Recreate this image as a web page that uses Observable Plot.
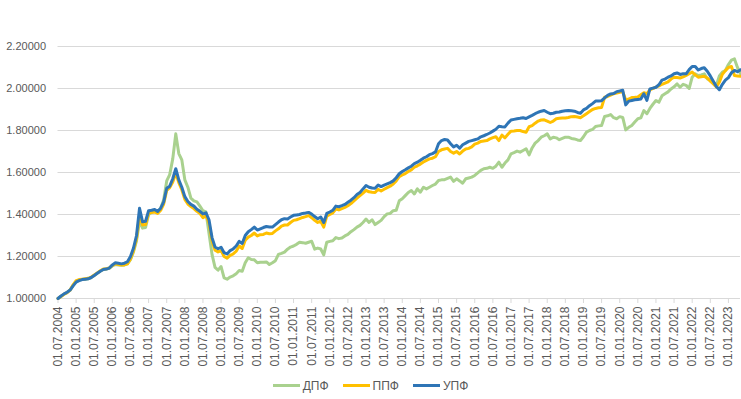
<!DOCTYPE html>
<html>
<head>
<meta charset="utf-8">
<script src="https://cdn.jsdelivr.net/npm/d3@7"></script>
<script src="https://cdn.jsdelivr.net/npm/@observablehq/plot@0.6"></script>
<style>
  body { margin: 0; background: #fff; font-family: "Liberation Sans", Arial, sans-serif; }
  #chart { width: 741px; }
  .legend { display: flex; justify-content: center; align-items: center; height: 27px; font-size: 12px; color: #595959; }
  .legend .item { display: flex; align-items: center; margin: 0 7px; }
  .legend .sw { width: 27px; height: 3px; margin-right: 3px; }
</style>
</head>
<body>
<div id="chart"></div>
<script>
// Series names and colours
const seriesNames = ["ДПФ", "ППФ", "УПФ"];
const seriesColors = ["#a9d18e", "#ffc000", "#2e75b6"];

// Monthly values, 01.07.2004 ... 01.05.2023
const dpf = [
1.000,1.010,1.020,1.028,1.040,1.062,1.080,1.088,1.090,1.092,1.094,1.100,
1.110,1.120,1.130,1.138,1.140,1.144,1.155,1.162,1.160,1.158,1.160,1.165,
1.185,1.222,1.275,1.370,1.335,1.338,1.400,1.410,1.415,1.410,1.430,1.470,
1.560,1.590,1.665,1.784,1.690,1.660,1.565,1.530,1.478,1.465,1.460,1.440,
1.418,1.412,1.310,1.210,1.148,1.135,1.152,1.098,1.092,1.102,1.108,1.118,
1.133,1.130,1.170,1.194,1.186,1.184,1.170,1.173,1.173,1.174,1.162,1.170,
1.180,1.210,1.215,1.221,1.235,1.245,1.250,1.258,1.268,1.266,1.263,1.268,
1.273,1.235,1.240,1.236,1.208,1.268,1.272,1.275,1.290,1.285,1.288,1.298,
1.305,1.318,1.328,1.340,1.348,1.362,1.378,1.362,1.375,1.352,1.362,1.372,
1.390,1.403,1.405,1.418,1.420,1.465,1.475,1.490,1.505,1.514,1.498,1.522,
1.506,1.530,1.522,1.530,1.538,1.545,1.562,1.565,1.566,1.572,1.578,1.558,
1.570,1.560,1.549,1.570,1.574,1.578,1.586,1.598,1.610,1.618,1.620,1.625,
1.620,1.630,1.649,1.625,1.645,1.660,1.689,1.695,1.702,1.697,1.705,1.713,
1.684,1.717,1.740,1.752,1.768,1.775,1.784,1.760,1.768,1.765,1.756,1.762,
1.768,1.768,1.762,1.760,1.755,1.752,1.770,1.792,1.800,1.805,1.819,1.822,
1.824,1.867,1.870,1.876,1.861,1.856,1.866,1.862,1.803,1.815,1.824,1.840,
1.856,1.860,1.895,1.880,1.905,1.925,1.943,1.935,1.965,1.975,1.984,1.998,
2.008,2.022,2.006,2.020,2.015,2.000,2.054,2.070,2.062,2.065,2.070,2.046,
2.040,2.030,2.014,2.060,2.078,2.086,2.114,2.135,2.141,2.100,2.070
];
const ppf = [
1.000,1.010,1.020,1.028,1.040,1.065,1.085,1.090,1.092,1.094,1.096,1.102,
1.112,1.122,1.132,1.140,1.142,1.146,1.158,1.165,1.162,1.160,1.160,1.165,
1.188,1.228,1.285,1.395,1.350,1.352,1.405,1.410,1.412,1.405,1.420,1.450,
1.515,1.528,1.555,1.598,1.552,1.518,1.472,1.450,1.438,1.428,1.415,1.405,
1.385,1.395,1.360,1.275,1.230,1.222,1.228,1.200,1.192,1.205,1.212,1.225,
1.250,1.238,1.278,1.292,1.300,1.312,1.298,1.304,1.305,1.312,1.308,1.310,
1.322,1.332,1.345,1.350,1.350,1.362,1.372,1.375,1.380,1.386,1.390,1.395,
1.385,1.372,1.362,1.368,1.340,1.392,1.400,1.408,1.426,1.422,1.428,1.434,
1.442,1.452,1.465,1.478,1.490,1.502,1.515,1.508,1.506,1.505,1.520,1.512,
1.520,1.528,1.535,1.545,1.560,1.580,1.588,1.595,1.605,1.612,1.625,1.632,
1.640,1.650,1.658,1.665,1.668,1.675,1.700,1.708,1.712,1.715,1.700,1.692,
1.700,1.688,1.702,1.712,1.715,1.722,1.735,1.740,1.748,1.750,1.752,1.760,
1.766,1.770,1.752,1.778,1.765,1.782,1.797,1.798,1.800,1.800,1.795,1.792,
1.818,1.823,1.835,1.845,1.850,1.851,1.845,1.838,1.845,1.856,1.858,1.860,
1.860,1.862,1.866,1.867,1.864,1.861,1.870,1.880,1.890,1.900,1.905,1.908,
1.910,1.958,1.962,1.968,1.975,1.978,1.982,1.985,1.945,1.950,1.957,1.958,
1.960,1.970,1.980,1.975,1.993,2.000,2.006,2.012,2.020,2.026,2.032,2.045,
2.054,2.052,2.050,2.055,2.062,2.070,2.078,2.065,2.054,2.056,2.058,2.050,
2.035,2.022,2.008,2.030,2.068,2.085,2.100,2.105,2.062,2.060,2.058
];
const upf = [
1.000,1.012,1.022,1.030,1.040,1.060,1.078,1.085,1.090,1.092,1.094,1.100,
1.110,1.120,1.130,1.138,1.140,1.145,1.160,1.170,1.168,1.165,1.168,1.175,
1.200,1.240,1.300,1.430,1.365,1.368,1.418,1.420,1.424,1.414,1.430,1.460,
1.525,1.535,1.570,1.618,1.565,1.530,1.485,1.462,1.448,1.440,1.425,1.415,
1.403,1.408,1.375,1.290,1.245,1.237,1.244,1.218,1.212,1.228,1.236,1.250,
1.272,1.262,1.300,1.318,1.328,1.340,1.326,1.332,1.338,1.343,1.341,1.340,
1.352,1.364,1.375,1.380,1.379,1.388,1.396,1.398,1.400,1.405,1.407,1.410,
1.402,1.390,1.380,1.388,1.362,1.405,1.412,1.420,1.440,1.437,1.442,1.448,
1.458,1.468,1.480,1.495,1.505,1.522,1.538,1.530,1.526,1.525,1.540,1.533,
1.540,1.546,1.552,1.560,1.575,1.594,1.605,1.613,1.622,1.630,1.642,1.649,
1.658,1.668,1.675,1.685,1.690,1.698,1.737,1.752,1.757,1.755,1.737,1.722,
1.730,1.716,1.732,1.740,1.748,1.752,1.756,1.760,1.770,1.775,1.781,1.788,
1.797,1.806,1.820,1.818,1.817,1.835,1.850,1.853,1.856,1.858,1.861,1.857,
1.865,1.872,1.880,1.887,1.892,1.895,1.887,1.880,1.882,1.887,1.888,1.892,
1.894,1.895,1.894,1.892,1.886,1.882,1.898,1.905,1.918,1.928,1.940,1.940,
1.942,1.955,1.967,1.974,1.976,1.985,1.988,1.992,1.922,1.940,1.943,1.946,
1.948,1.950,1.975,1.943,1.998,2.002,2.006,2.018,2.040,2.045,2.054,2.060,
2.070,2.074,2.067,2.070,2.070,2.090,2.105,2.105,2.088,2.095,2.099,2.082,
2.060,2.035,2.010,1.994,2.020,2.040,2.052,2.075,2.086,2.080,2.089
];

// Axis tick labels (every 6 months)
const tickLabels = [
"01.07.2004","01.01.2005","01.07.2005","01.01.2006","01.07.2006","01.01.2007",
"01.07.2007","01.01.2008","01.07.2008","01.01.2009","01.07.2009","01.01.2010",
"01.07.2010","01.01.2011","01.07.2011","01.01.2012","01.07.2012","01.01.2013",
"01.07.2013","01.01.2014","01.07.2014","01.01.2015","01.07.2015","01.01.2016",
"01.07.2016","01.01.2017","01.07.2017","01.01.2018","01.07.2018","01.01.2019",
"01.07.2019","01.01.2020","01.07.2020","01.01.2021","01.07.2021","01.01.2022",
"01.07.2022","01.01.2023"
];
const yTicks = [1.0, 1.2, 1.4, 1.6, 1.8, 2.0, 2.2];

const seriesData = [dpf, ppf, upf];
const rows = [];
seriesData.forEach((arr, s) => arr.forEach((v, i) => rows.push({m: i, v, s: seriesNames[s]})));
const tickPos = tickLabels.map((_, i) => i * 6);
const labelOf = new Map(tickPos.map((p, i) => [p, tickLabels[i]]));

const chart = Plot.plot({
  width: 741,
  height: 372,
  marginLeft: 57.5,
  marginRight: 1,
  marginTop: 46,
  marginBottom: 74,
  style: { fontFamily: '"Liberation Sans", Arial, sans-serif', color: "#595959", background: "#fff" },
  x: { type: "linear", domain: [0, dpf.length - 1], axis: null, label: null },
  y: { domain: [1.0, 2.2], axis: null, label: null },
  marks: [
    Plot.ruleY(yTicks, { stroke: "#d9d9d9", strokeWidth: 1 }),
    Plot.axisY(yTicks, { label: null, tickSize: 0, tickPadding: 12, tickFormat: d => d.toFixed(5), fontSize: 11, fill: "#595959" }),
    Plot.axisX(tickPos, { label: null, tickSize: 5, stroke: "#d9d9d9", tickRotate: -90, tickPadding: 3, tickFormat: d => labelOf.get(d), fontSize: 12, fill: "#595959" }),
    ...seriesNames.map((n, i) => Plot.line(rows.filter(r => r.s === n), { x: "m", y: "v", stroke: seriesColors[i], strokeWidth: 3, strokeLinejoin: "round", strokeLinecap: "round" }))
  ]
});
document.getElementById("chart").appendChild(chart);

const legend = document.createElement("div");
legend.className = "legend";
seriesNames.forEach((n, i) => {
  const it = document.createElement("div");
  it.className = "item";
  const sw = document.createElement("span");
  sw.className = "sw";
  sw.style.background = seriesColors[i];
  const t = document.createElement("span");
  t.textContent = n;
  it.appendChild(sw); it.appendChild(t);
  legend.appendChild(it);
});
document.body.appendChild(legend);
</script>
</body>
</html>
